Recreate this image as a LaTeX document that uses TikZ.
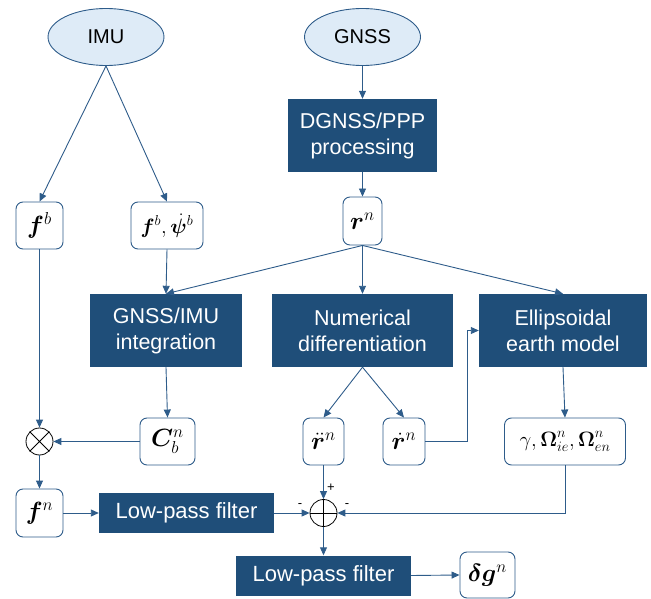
\documentclass[tikz,border=0pt]{standalone}
\usepackage{amsmath, bm}
\usepackage{fontspec}
\setmainfont{Liberation Sans}
\usetikzlibrary{arrows.meta, shapes.geometric, positioning}

\definecolor{boxblue}{HTML}{1F4E79}
\definecolor{lineblue}{HTML}{2E5C8A}
\definecolor{ellfill}{HTML}{DEEBF7}

\begin{document}
\begin{tikzpicture}[x=1pt, y=-1pt,
    sensor/.style={ellipse, draw=lineblue, line width=0.9pt, fill=ellfill, inner sep=0pt,
      minimum width=116, minimum height=57, font=\fontsize{20}{24}\selectfont},
    procbox/.style={rectangle, fill=boxblue, text=white, align=center, inner sep=0pt,
      minimum height=73, font=\fontsize{21.5}{26}\selectfont},
    filterbox/.style={rectangle, fill=boxblue, text=white, inner sep=0pt,
      minimum width=175, minimum height=40, font=\fontsize{22}{26}\selectfont},
    varbox/.style={rectangle, rounded corners=7pt, draw=lineblue, line width=0.9pt, fill=white,
      inner sep=0pt, minimum height=47, font=\fontsize{24}{28}\selectfont},
    wide/.style={font=\fontsize{20}{24}\selectfont},
    opnode/.style={circle, draw=black, line width=0.8pt, inner sep=0pt, minimum size=27},
    signlabel/.style={inner sep=0pt, font=\fontsize{13}{15}\selectfont},
    flow/.style={draw=lineblue, line width=0.9pt, -{Triangle[length=8pt, width=7pt]}}]
  \useasboundingbox (0,0) rectangle (651,599);

  % sources
  \node[sensor] (imu) at (106,37) {IMU};
  \node[sensor] (gnss) at (362.5,37) {GNSS};

  % processing blocks
  \node[procbox, minimum width=149] (dgnss) at (362.5,135.5) {DGNSS/PPP\\processing};
  \node[procbox, minimum width=152] (integ) at (166,330.5) {GNSS/IMU\\integration};
  \node[procbox, minimum width=181] (numdiff) at (362.5,330.5) {Numerical\\differentiation};
  \node[procbox, minimum width=168] (ellip) at (563,330.5) {Ellipsoidal\\earth model};

  % quantities
  \node[varbox, minimum width=39, minimum height=48] (rn) at (362.5,221) {$\bm{r}^n$};
  \node[varbox, minimum width=47] (fb) at (39.5,225.5) {$\bm{f}^b$};
  \node[varbox, wide, minimum width=72] (fbpsi) at (167,225.5) {$\bm{f}^b,\dot{\bm{\psi}}^b$};
  \node[varbox, minimum width=55] (cbn) at (167.5,441.5) {$\bm{C}_b^n$};
  \node[varbox, minimum width=41] (rdd) at (323.5,441.5) {$\ddot{\bm{r}}^n$};
  \node[varbox, minimum width=42] (rd) at (404,441.5) {$\dot{\bm{r}}^n$};
  \node[varbox, wide, minimum width=121] (grav) at (565,441.5) {$\gamma,\bm{\Omega}_{ie}^n,\bm{\Omega}_{en}^n$};
  \node[varbox, minimum width=47, minimum height=48] (fn) at (39.5,513) {$\bm{f}^n$};
  \node[varbox, minimum width=55, minimum height=46] (dg) at (487.5,575) {$\bm{\delta g}^n$};

  % operators and filters
  \node[opnode] (prod) at (39.5,441.5) {};
  \draw[line width=0.8pt] (prod.north west) -- (prod.south east) (prod.north east) -- (prod.south west);
  \node[filterbox] (lpfa) at (186.5,513) {Low-pass filter};
  \node[opnode] (sum) at (323.5,513) {};
  \draw[line width=0.8pt] (sum.north) -- (sum.south) (sum.west) -- (sum.east);
  \node[filterbox] (lpfb) at (323.5,575.5) {Low-pass filter};
  \node[signlabel] (plus) at (331,488) {+};
  \node[signlabel] (minusa) at (300,506) {-};
  \node[signlabel] (minusb) at (347,506) {-};

  % connections
  \draw[flow] (imu.south) -- (fb.north);
  \draw[flow] (imu.south) -- (fbpsi.north);
  \draw[flow] (gnss.south) -- (dgnss.north);
  \draw[flow] (dgnss.south) -- (rn.north);
  \draw[flow] (rn.south) -- (integ.north);
  \draw[flow] (rn.south) -- (numdiff.north);
  \draw[flow] (rn.south) -- (ellip.north);
  \draw[flow] (fbpsi.south) -- (integ.north);
  \draw[flow] (integ.south) -- (cbn.north);
  \draw[flow] (numdiff.south) -- (rdd.north);
  \draw[flow] (numdiff.south) -- (rd.north);
  \coordinate (bend) at (467,330.5);
  \draw[flow] (rd.east) -| (bend) -- (ellip.west);
  \draw[flow] (ellip.south) -- (grav.north);
  \draw[flow] (fb.south) -- (prod.north);
  \draw[flow] (cbn.west) -- (prod.east);
  \draw[flow] (prod.south) -- (fn.north);
  \draw[flow] (fn.east) -- (lpfa.west);
  \draw[flow] (lpfa.east) -- (sum.west);
  \draw[flow] (rdd.south) -- (sum.north);
  \draw[flow] (grav.south) |- (sum.east);
  \draw[flow] (sum.south) -- (lpfb.north);
  \draw[flow] (lpfb.east) -- (dg.west);
\end{tikzpicture}
\end{document}
